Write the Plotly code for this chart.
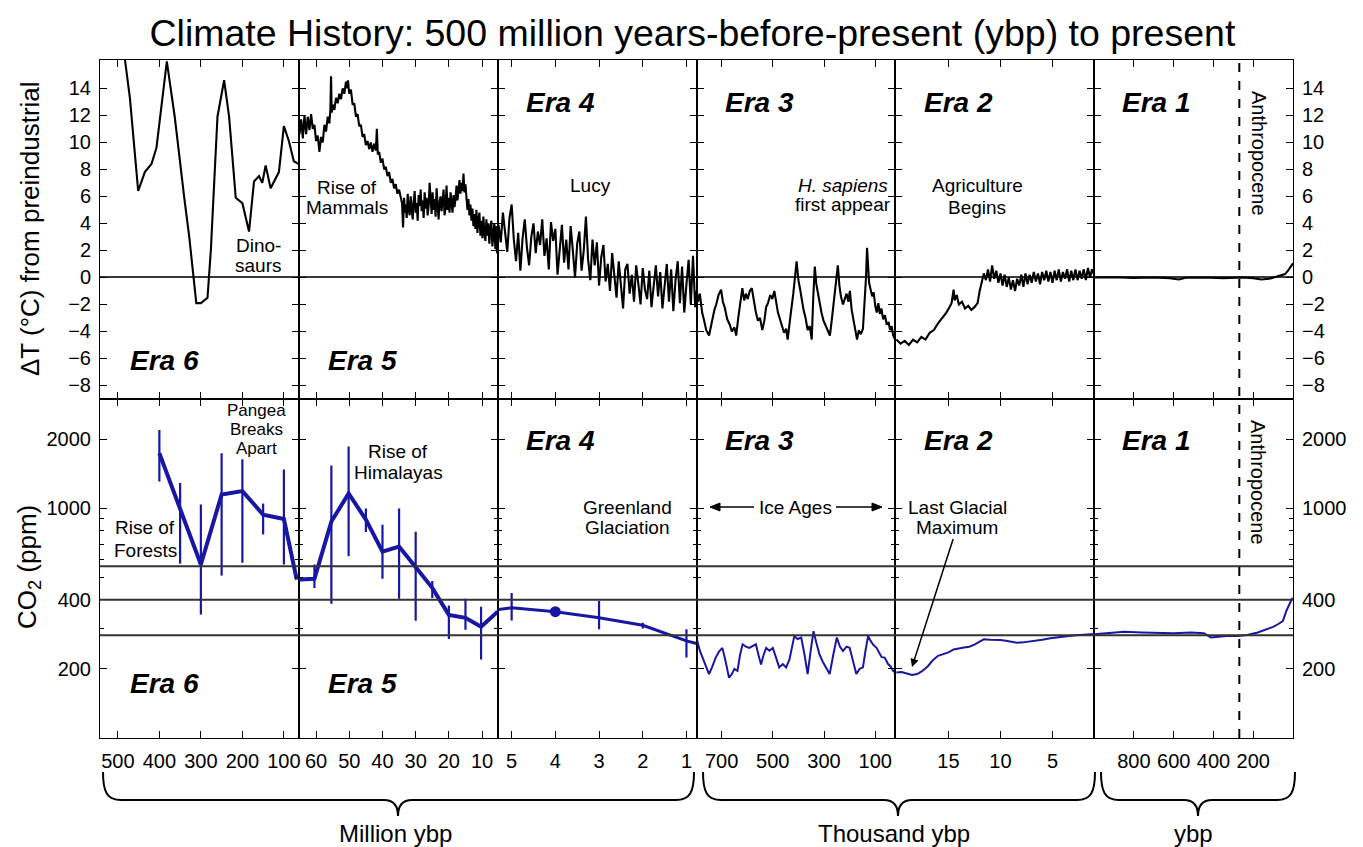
import plotly.graph_objects as go
from plotly.subplots import make_subplots

# ---------------- axis definitions (one column per era) ----------------
era_labels = ["Era 6", "Era 5", "Era 4", "Era 3", "Era 2", "Era 1"]
era_ranges = [[543, 64], [65.2, 5.3], [5.32, 0.77], [798, 21.5], [20.1, 1.0], [1000, 0]]
era_ticks = [[500, 400, 300, 200, 100], [60, 50, 40, 30, 20, 10], [5, 4, 3, 2, 1],
             [700, 500, 300, 100], [15, 10, 5], [800, 600, 400, 200]]
temp_ticks = [-8, -6, -4, -2, 0, 2, 4, 6, 8, 10, 12, 14]
co2_ticks = [200, 400, 1000, 2000]
co2_minor_ticks = [300, 500, 600, 700, 800, 900]
co2_ref_levels = [280, 400, 560]
anthropocene_start_ybp = 270

# ---------------- temperature (deg C from preindustrial) ----------------
# Era 6 : million years before present
era6_temp = [(495, 19.0), (483, 16.0), (471, 13.3), (451, 6.4), (435, 7.8), (419, 8.4), (407, 9.6),
             (382, 16.0), (363, 11.9), (340, 5.9), (328, 3.0), (311, -1.9), (300, -1.9), (284, -1.5),
             (276, 2.0), (260, 11.9), (244, 14.6), (232, 11.9), (216, 5.9), (200, 5.5), (184, 3.4),
             (172, 7.1), (160, 7.5), (152, 7.0), (144, 8.3), (132, 6.6), (112, 7.8), (100, 11.2),
             (88, 10.1), (76, 8.6), (64, 8.4)]
# Era 5 : million years
era5_temp = [(65, 10.6), (64.5, 11.7), (64, 10.3), (63.5, 12.0), (63, 10.6), (62.5, 11.9), (62, 10.9),
             (61.5, 12.1), (61, 11.0), (60.5, 11.3), (60, 10.1), (59.5, 10.5), (59, 9.3), (58.5, 10.4),
             (58, 10.0), (57.5, 11.3), (57, 10.8), (56.5, 11.9), (56, 11.4), (55.7, 12.4), (55.5, 14.9),
             (55.3, 12.2), (55, 12.8), (54.5, 12.4), (54, 13.3), (53.5, 12.9), (53, 13.6), (52.5, 13.2),
             (52, 14.0), (51.5, 13.6), (51, 14.5), (50.7, 14.0), (50.4, 14.6), (50, 13.6), (49.5, 13.9),
             (49, 12.8), (48.5, 12.9), (48, 11.9), (47.5, 12.1), (47, 11.2), (46.5, 11.3), (46, 10.4),
             (45.5, 10.6), (45, 9.8), (44.5, 10.1), (44, 9.5), (43.5, 10.0), (43, 9.3), (42.5, 9.9),
             (42, 9.4), (41.7, 11.0), (41.4, 9.1), (41, 9.3), (40.5, 8.5), (40, 8.8), (39.5, 8.0),
             (39, 8.2), (38.5, 7.5), (38, 7.8), (37.5, 7.0), (37, 7.3), (36.5, 6.6), (36, 6.9),
             (35.5, 6.2), (35, 6.5), (34.5, 5.8), (34.1, 5.5), (33.8, 3.7), (33.5, 5.9), (33.2, 4.8),
             (33, 5.4), (32.7, 4.4), (32.4, 6.2), (32.1, 5.0), (31.8, 4.6), (31.5, 6.0), (31.2, 5.2),
             (30.9, 4.3), (30.6, 5.6), (30.3, 6.4), (30, 4.8), (29.7, 5.5), (29.4, 4.2), (29.1, 6.1),
             (28.8, 5.3), (28.5, 6.5), (28.2, 4.9), (27.9, 5.7), (27.6, 4.4), (27.3, 6.3), (27, 5.1),
             (26.7, 5.9), (26.4, 4.6), (26.1, 5.3), (25.8, 7.0), (25.5, 5.4), (25.2, 4.7), (24.9, 6.3),
             (24.6, 5.0), (24.3, 5.8), (24, 4.5), (23.7, 6.6), (23.4, 5.3), (23.1, 4.3), (22.8, 5.6),
             (22.5, 6.0), (22.2, 4.9), (21.9, 5.5), (21.6, 6.5), (21.3, 4.6), (21, 5.2), (20.7, 6.8),
             (20.4, 5.0), (20.1, 5.9), (19.8, 4.8), (19.5, 6.3), (19.2, 5.4), (18.9, 4.8), (18.6, 6.1),
             (18.3, 5.2), (18, 5.8), (17.7, 6.8), (17.4, 5.7), (17.1, 6.4), (16.8, 7.2), (16.5, 6.2),
             (16.2, 7.0), (15.9, 6.4), (15.6, 7.7), (15.3, 6.3), (15, 6.9), (14.7, 5.9), (14.4, 5.0),
             (14.1, 5.8), (13.8, 4.6), (13.5, 5.4), (13.2, 4.2), (12.9, 5.1), (12.6, 3.8), (12.3, 4.7),
             (12, 3.6), (11.7, 5.0), (11.4, 3.3), (11.1, 4.3), (10.8, 4.8), (10.5, 3.1), (10.2, 4.2),
             (9.9, 2.9), (9.6, 4.5), (9.3, 3.3), (9.0, 2.7), (8.7, 4.3), (8.4, 3.1), (8.1, 4.0),
             (7.8, 2.5), (7.5, 3.6), (7.2, 4.2), (6.9, 2.3), (6.6, 3.4), (6.3, 4.0), (6.0, 2.1),
             (5.7, 3.8), (5.5, 1.8), (5.3, 3.6)]
# Era 4 : million years
era4_temp = [(5.30, 3.9), (5.25, 2.6), (5.20, 4.8), (5.15, 3.1), (5.10, 1.9), (5.05, 4.4), (5.00, 5.4),
             (4.95, 2.8), (4.90, 1.2), (4.85, 3.3), (4.80, 0.5), (4.75, 2.9), (4.70, 4.3), (4.65, 2.2),
             (4.60, 0.9), (4.55, 3.0), (4.50, 4.0), (4.45, 1.8), (4.40, 3.4), (4.35, 2.4), (4.30, 4.3),
             (4.25, 1.6), (4.20, 2.9), (4.15, 0.6), (4.10, 4.1), (4.05, 2.7), (4.00, 3.6), (3.95, 0.2),
             (3.90, 2.3), (3.85, 3.9), (3.80, 1.1), (3.75, 2.8), (3.70, 0.6), (3.65, 3.8), (3.60, 2.0),
             (3.55, 0.0), (3.50, 2.5), (3.45, 3.4), (3.40, 0.5), (3.35, 2.0), (3.30, 4.5), (3.25, 1.3),
             (3.20, -0.2), (3.15, 2.8), (3.10, 0.9), (3.05, 2.6), (3.00, -0.6), (2.95, 1.5), (2.90, 2.4),
             (2.85, -0.3), (2.80, 1.0), (2.75, -1.0), (2.70, 1.8), (2.65, 0.2), (2.60, -1.5), (2.55, 1.2),
             (2.50, -0.4), (2.45, -2.3), (2.40, 0.6), (2.35, 1.0), (2.30, -1.2), (2.25, 0.2), (2.20, -1.8),
             (2.15, 0.9), (2.10, -0.5), (2.05, -2.0), (2.00, 0.7), (1.95, -0.9), (1.90, -1.6), (1.85, 0.5),
             (1.80, -2.2), (1.75, -0.4), (1.70, 0.9), (1.65, -1.4), (1.60, 0.4), (1.55, -2.3), (1.50, -0.6),
             (1.45, 1.0), (1.40, -1.8), (1.35, 0.6), (1.30, -2.5), (1.25, -0.2), (1.20, 1.2), (1.15, -1.9),
             (1.10, 0.8), (1.05, -2.6), (1.00, -0.5), (0.95, 1.3), (0.90, -2.0), (0.85, 1.6), (0.80, -2.2),
             (0.77, -1.0)]
# Era 3 : thousand years
era3_temp = [(800, -0.5), (792, -1.8), (785, -1.2), (776, -2.6), (768, -3.2), (760, -3.9), (749, -4.3),
             (742, -3.6), (735, -3.1), (728, -2.4), (721, -2.0), (712, -1.3), (702, -0.9), (695, -1.8),
             (688, -2.2), (678, -3.1), (668, -3.5), (660, -4.0), (650, -3.7), (643, -4.3), (635, -3.0),
             (626, -1.6), (619, -0.8), (612, -1.7), (605, -1.2), (598, -1.6), (590, -1.0), (582, -0.8),
             (574, -1.9), (566, -2.6), (558, -3.2), (550, -3.0), (541, -3.9), (533, -3.2), (526, -2.2),
             (519, -1.9), (510, -1.3), (502, -1.6), (494, -1.0), (487, -2.0), (480, -2.6), (472, -3.1),
             (464, -3.6), (456, -4.1), (448, -3.8), (442, -4.6), (432, -3.0), (420, -1.2), (407, 1.2),
             (400, -0.2), (394, -0.8), (388, -1.6), (380, -2.4), (372, -3.0), (364, -3.9), (356, -3.6),
             (348, -4.6), (342, -1.5), (336, 0.8), (330, -0.5), (324, -1.2), (317, -2.0), (310, -2.6),
             (302, -3.2), (294, -3.6), (286, -3.9), (277, -4.3), (270, -3.2), (262, -1.8), (252, -0.3),
             (246, 0.9), (240, -0.6), (234, -1.4), (226, -2.0), (219, -1.6), (212, -1.2), (205, -1.8),
             (199, -1.0), (192, -2.4), (185, -3.1), (178, -3.8), (171, -4.6), (164, -3.9), (156, -4.2),
             (148, -3.8), (142, -2.0), (136, 0.0), (132, 2.2), (128, 0.6), (124, -0.4), (118, -0.9),
             (112, -1.4), (106, -1.1), (100, -2.1), (94, -2.6), (88, -1.9), (82, -2.7), (76, -2.3),
             (69, -3.1), (62, -2.8), (55, -3.5), (48, -3.3), (42, -3.9), (36, -3.6), (30, -4.3),
             (25, -4.5), (20, -4.7)]
# Era 2 : thousand years
era2_temp = [(20.0, -4.6), (19.6, -4.9), (19.2, -4.7), (18.8, -5.0), (18.4, -4.6), (18.0, -4.8),
             (17.6, -4.4), (17.2, -4.6), (16.8, -4.1), (16.4, -3.9), (16.0, -3.4), (15.6, -3.0),
             (15.2, -2.6), (14.9, -2.2), (14.7, -1.9), (14.5, -0.9), (14.4, -1.7), (14.2, -1.3),
             (14.0, -2.0), (13.7, -1.8), (13.4, -2.3), (13.1, -2.1), (12.8, -2.4), (12.5, -2.2),
             (12.2, -1.9), (12.0, -1.0), (11.8, -0.4), (11.6, 0.3), (11.4, -0.2), (11.2, 0.6),
             (11.0, -0.3), (10.8, 0.9), (10.6, -0.1), (10.4, 0.5), (10.2, -0.4), (10.0, 0.3),
             (9.8, -0.6), (9.6, 0.2), (9.4, -0.7), (9.2, 0.0), (9.0, -0.9), (8.8, -0.2), (8.6, -1.0),
             (8.4, -0.1), (8.2, -0.6), (8.0, 0.2), (7.8, -0.7), (7.6, 0.3), (7.4, -0.5), (7.2, 0.2),
             (7.0, -0.4), (6.8, 0.4), (6.6, -0.3), (6.4, 0.3), (6.2, -0.5), (6.0, 0.4), (5.8, -0.2),
             (5.6, 0.5), (5.4, -0.3), (5.2, 0.4), (5.0, -0.4), (4.8, 0.5), (4.6, -0.2), (4.4, 0.6),
             (4.2, -0.3), (4.0, 0.4), (3.8, -0.1), (3.6, 0.6), (3.4, -0.3), (3.2, 0.5), (3.0, -0.2),
             (2.8, 0.6), (2.6, -0.2), (2.4, 0.5), (2.2, -0.1), (2.0, 0.6), (1.8, -0.2), (1.6, 0.7),
             (1.4, 0.0), (1.2, 0.6), (1.0, 0.2)]
# Era 1 : years
era1_temp = [(1000, 0.0), (900, 0.02), (800, -0.03), (700, 0.0), (620, -0.05), (574, -0.15),
             (540, -0.02), (450, 0.0), (350, -0.05), (300, -0.02), (250, 0.0), (200, -0.05),
             (160, -0.15), (120, -0.1), (90, 0.05), (60, 0.15), (40, 0.25), (25, 0.5), (10, 0.8),
             (0, 1.05)]

# ---------------- CO2 (ppm) ----------------
# Era 6 proxies with uncertainty range (million years)
era6_co2_x = [400, 350, 300, 250, 200, 150, 100, 69]
era6_co2 = [1740, 1000, 570, 1150, 1190, 940, 900, 490]
era6_co2_hi = [2200, 1290, 1040, 1740, 1640, 1050, 1480, 490]
era6_co2_lo = [1310, 575, 345, 510, 580, 770, 570, 490]
# Era 5 proxies (million years)
era5_co2_x = [65, 60.5, 55.4, 50.2, 45, 40, 35, 30, 25, 20, 15, 10.3, 5.3]
era5_co2 = [490, 494, 877, 1162, 895, 649, 683, 557, 451, 344, 334, 305, 355]
era5_co2_hi = [490, 570, 1540, 1860, 1000, 850, 1000, 792, 483, 378, 404, 373, 355]
era5_co2_lo = [490, 450, 385, 620, 790, 494, 404, 324, 407, 270, 296, 220, 355]
# Era 4 (million years)
era4_co2_x = [5.3, 5.0, 4.0, 3.0, 2.0, 1.0, 0.77]
era4_co2 = [363, 369, 355, 334, 310, 265, 258]
era4_co2_hi = [363, 428, 355, 395, 318, 298, 258]
era4_co2_lo = [363, 325, 355, 298, 300, 224, 258]
era4_marker_age = 4.0
# Era 3 ice cores (thousand years)
era3_co2 = [(800, 262), (795, 265), (785, 240), (775, 224), (762, 205), (749, 190), (736, 205),
            (723, 224), (710, 238), (697, 247), (684, 215), (671, 183), (660, 190), (650, 200),
            (638, 196), (628, 230), (618, 256), (605, 250), (592, 247), (580, 252), (566, 256),
            (556, 230), (546, 209), (536, 230), (526, 247), (513, 240), (500, 247), (488, 225),
            (475, 203), (461, 210), (448, 203), (435, 220), (425, 250), (416, 278), (403, 270),
            (389, 274), (376, 230), (364, 190), (352, 240), (341, 292), (330, 260), (318, 232),
            (305, 215), (290, 200), (278, 190), (264, 230), (250, 274), (238, 250), (226, 239),
            (212, 250), (200, 247), (186, 215), (174, 190), (161, 200), (148, 203), (138, 240),
            (128, 278), (118, 265), (108, 255), (95, 247), (85, 235), (75, 225), (63, 224),
            (50, 210), (40, 205), (30, 196), (20, 192)]
# Era 2 (thousand years)
era2_co2 = [(20, 193), (19.5, 194), (19, 191), (18.5, 188), (18, 190), (17.5, 196), (17, 205),
            (16.5, 218), (16, 228), (15.5, 232), (15, 236), (14.5, 243), (14, 246), (13.5, 248),
            (13, 250), (12.5, 255), (12, 263), (11.6, 269), (11, 268), (10.5, 268), (10, 267),
            (9.5, 265), (9, 262), (8.4, 260), (7.8, 261), (7.2, 263), (6.8, 265), (6, 268),
            (5.2, 272), (4.4, 275), (3.6, 278), (2.8, 280), (2, 282), (1.4, 283), (1.0, 284)]
# Era 1 (years)
era1_co2 = [(1000, 283), (930, 287), (850, 290), (760, 288), (681, 286), (600, 286), (513, 288),
            (448, 286), (413, 274), (385, 276), (362, 278), (320, 279), (278, 278), (230, 281),
            (177, 288), (127, 298), (100, 305), (76, 313), (51, 323), (34, 357), (20, 380),
            (9, 404), (3, 408)]

# ---------------- styling ----------------
FONT = "Liberation Sans, Arial, Helvetica, sans-serif"
NARROW = "Liberation Sans Narrow, Arial Narrow, Liberation Sans, Arial, sans-serif"
BLUE = "#1717a3"
L_PX, R_PX, T_PX, B_PX = 100, 1293, 60, 738
W_PX, H_PX = R_PX - L_PX, B_PX - T_PX


def X(px):
    return (px - L_PX) / W_PX


def Y(py):
    return (B_PX - py) / H_PX


def unzip(pairs):
    return [p[0] for p in pairs], [p[1] for p in pairs]


fig = make_subplots(rows=2, cols=6, horizontal_spacing=0, vertical_spacing=0)

# temperature traces
for c, series in enumerate([era6_temp, era5_temp, era4_temp, era3_temp, era2_temp, era1_temp], start=1):
    xs, ys = unzip(series)
    fig.add_trace(go.Scatter(x=xs, y=ys, mode="lines", line=dict(color="black", width=2.1),
                             hoverinfo="skip"), row=1, col=c)


def co2_bars(xs, ys, hi, lo, width, col):
    plus = [h - v for h, v in zip(hi, ys)]
    minus = [v - l for v, l in zip(ys, lo)]
    fig.add_trace(go.Scatter(x=xs, y=ys, mode="lines", line=dict(color=BLUE, width=width),
                             error_y=dict(type="data", array=plus, arrayminus=minus, visible=True,
                                          color=BLUE, thickness=2.2, width=0),
                             hoverinfo="skip"), row=2, col=col)


co2_bars(era6_co2_x, era6_co2, era6_co2_hi, era6_co2_lo, 4, 1)
co2_bars(era5_co2_x, era5_co2, era5_co2_hi, era5_co2_lo, 4, 2)
co2_bars(era4_co2_x, era4_co2, era4_co2_hi, era4_co2_lo, 3, 3)
mi = era4_co2_x.index(era4_marker_age)
fig.add_trace(go.Scatter(x=[era4_co2_x[mi]], y=[era4_co2[mi]], mode="markers",
                         marker=dict(color=BLUE, size=11), hoverinfo="skip"), row=2, col=3)
for c, series in [(4, era3_co2), (5, era2_co2), (6, era1_co2)]:
    xs, ys = unzip(series)
    fig.add_trace(go.Scatter(x=xs, y=ys, mode="lines", line=dict(color=BLUE, width=2),
                             hoverinfo="skip"), row=2, col=c)

# axes
common = dict(showline=True, linewidth=1, linecolor="black", mirror="ticks", ticks="inside",
              ticklen=7, tickwidth=1.3, tickcolor="black", showgrid=False)
for c in range(1, 7):
    for r in (1, 2):
        fig.update_xaxes(row=r, col=c, range=era_ranges[c - 1], tickvals=era_ticks[c - 1],
                         ticktext=[str(v) for v in era_ticks[c - 1]], showticklabels=(r == 2),
                         zeroline=False, tickfont=dict(family=NARROW, size=20, color="black"),
                         ticklabelstandoff=5, **common)
    fig.update_yaxes(row=1, col=c, range=[-9.0, 16.1], tickvals=temp_ticks,
                     ticktext=[str(v) if v >= 0 else "\u2212" + str(-v) for v in temp_ticks],
                     showticklabels=(c in (1, 6)), side=("right" if c == 6 else "left"),
                     zeroline=True, zerolinecolor="#3a3a3a", zerolinewidth=2,
                     tickfont=dict(family=FONT, size=20, color="black"), ticklabelstandoff=4, **common)
    fig.update_yaxes(row=2, col=c, type="log", range=[2.0, 3.477], tickvals=co2_ticks,
                     ticktext=[str(v) for v in co2_ticks],
                     showticklabels=(c in (1, 6)), side=("right" if c == 6 else "left"),
                     zeroline=False, tickfont=dict(family=FONT, size=20, color="black"),
                     ticklabelstandoff=4,
                     minor=dict(tickvals=co2_minor_ticks, ticks="inside", ticklen=4, tickwidth=1.2,
                                tickcolor="black", showgrid=False), **common)

shapes = []
for lvl in co2_ref_levels:
    shapes.append(dict(type="line", xref="paper", yref="y7", x0=0, x1=1, y0=lvl, y1=lvl,
                       line=dict(color="#333333", width=2), layer="above"))
shapes.append(dict(type="line", xref="x6", yref="paper", x0=anthropocene_start_ybp,
                   x1=anthropocene_start_ybp, y0=0, y1=1,
                   line=dict(color="black", width=2, dash="dash")))


def brace(Lx, Rx, Tx, ytop=772, yh=800, ytip=816):
    p = (f"M {X(Lx)},{Y(ytop)} C {X(Lx)},{Y(yh - 8)} {X(Lx + 4)},{Y(yh)} {X(Lx + 18)},{Y(yh)} "
         f"L {X(Tx - 14)},{Y(yh)} C {X(Tx - 5)},{Y(yh)} {X(Tx)},{Y(yh + 5)} {X(Tx)},{Y(ytip)} "
         f"C {X(Tx)},{Y(yh + 5)} {X(Tx + 5)},{Y(yh)} {X(Tx + 14)},{Y(yh)} "
         f"L {X(Rx - 18)},{Y(yh)} C {X(Rx - 4)},{Y(yh)} {X(Rx)},{Y(yh - 8)} {X(Rx)},{Y(ytop)}")
    return dict(type="path", xref="paper", yref="paper", path=p,
                line=dict(color="black", width=2))


shapes += [brace(103, 694, 398), brace(703, 1095, 898), brace(1101, 1295, 1198)]


# "Ice Ages" double arrow: shafts + filled heads
def arrow_shape(x_tail, x_head, y):
    d = 1 if x_head > x_tail else -1
    shaft = dict(type="line", xref="paper", yref="paper", x0=X(x_tail), x1=X(x_head - d * 6),
                 y0=Y(y), y1=Y(y), line=dict(color="black", width=1.5))
    head = dict(type="path", xref="paper", yref="paper",
                path=(f"M {X(x_head)},{Y(y)} L {X(x_head - d * 10)},{Y(y - 4)} "
                      f"L {X(x_head - d * 10)},{Y(y + 4)} Z"),
                fillcolor="black", line=dict(color="black", width=1))
    return [shaft, head]


shapes += arrow_shape(754, 710, 507) + arrow_shape(836, 882, 507)

annotations = []


def ann(text, px, py, size=19, **kw):
    d = dict(text=text, xref="paper", yref="paper", x=X(px), y=Y(py), showarrow=False,
             xanchor="center", yanchor="middle", font=dict(family=FONT, size=size, color="black"))
    d.update(kw)
    annotations.append(d)


# era labels
for i, name in enumerate(era_labels):
    cx = [164, 362, 560, 759, 958, 1156][i]
    ty = 360 if i < 2 else 102
    by = 683 if i < 2 else 440
    ann(f"<b><i>{name}</i></b>", cx, ty, size=28)
    ann(f"<b><i>{name}</i></b>", cx, by, size=28)

# top row texts
ann("Dino-", 258, 245); ann("saurs", 258, 265)
ann("Rise of", 347, 187); ann("Mammals", 347, 207)
ann("Lucy", 590, 185)
ann("<i>H. sapiens</i>", 843, 185); ann("first appear", 843, 205)
ann("Agriculture", 977, 185); ann("Begins", 977, 207)
ann("Anthropocene", 1259, 153, size=20, textangle=90)
# bottom row texts
ann("Pangea", 256, 410, size=17); ann("Breaks", 256, 429, size=17); ann("Apart", 256, 448, size=17)
ann("Rise of", 145, 527); ann("Forests", 145, 550)
ann("Rise of", 398, 452); ann("Himalayas", 398, 472)
ann("Greenland", 627, 507); ann("Glaciation", 627, 527)
ann("Ice Ages", 795, 507)
ann("Last Glacial", 957, 507)
# "Maximum" carries the arrow pointing to the LGM minimum
annotations.append(dict(text="Maximum", xref="paper", yref="paper", x=X(912), y=Y(667),
                        ax=45, ay=-140, showarrow=True, arrowhead=2, arrowsize=1.1,
                        arrowwidth=1.5, arrowcolor="black", standoff=0,
                        font=dict(family=FONT, size=19, color="black")))
ann("Anthropocene", 1258, 482, size=20, textangle=90)

# axis titles
ann("\u0394T (\u00b0C) from preindustrial", 30, 229, size=26, textangle=-90)
ann("CO<sub>2</sub> (ppm)", 28, 567, size=26, textangle=-90)
ann("Million ybp", 395, 833, size=24)
ann("Thousand ybp", 894, 833, size=24)
ann("ybp", 1193, 833, size=24)

fig.update_layout(
    width=1363, height=847,
    margin=dict(l=L_PX, r=1363 - R_PX, t=T_PX, b=847 - B_PX),
    paper_bgcolor="white", plot_bgcolor="white", showlegend=False,
    title=dict(text="Climate History: 500 million years-before-present (ybp) to present",
               x=0.508, xanchor="center", y=1 - 33 / 847, yanchor="middle",
               font=dict(family=FONT, size=37.5, color="black")),
    shapes=shapes, annotations=annotations,
)

fig.write_html("out.html")
